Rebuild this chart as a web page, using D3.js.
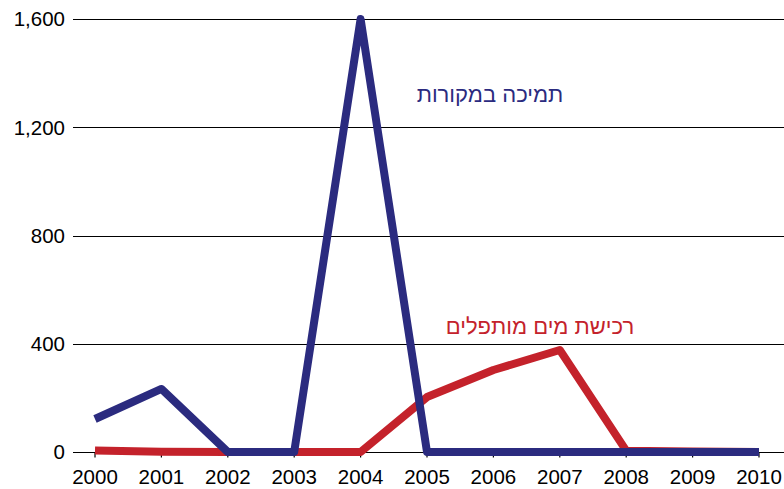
<!DOCTYPE html>
<html>
<head>
<meta charset="utf-8">
<script src="https://cdn.jsdelivr.net/npm/d3@7"></script>
<style>
  body { margin: 0; background: #fff; }
  svg { display: block; font-family: "Liberation Sans", Arial, sans-serif; }
</style>
</head>
<body>
<svg id="chart" width="784" height="489"></svg>
<script>
const years = [2000, 2001, 2002, 2003, 2004, 2005, 2006, 2007, 2008, 2009, 2010];
const supportValues = [122, 233, 0, 0, 1600, 0, 0, 0, 0, 0, 0];
const desalValues = [6, 1, 0, 0, 0, 203, 303, 377, 5, 2, 0];
const yTicks = [0, 400, 800, 1200, 1600];
const supportLabel = "תמיכה במקורות";
const desalLabel = "רכישת מים מותפלים";

const COLORS = { support: "#2b2b7f", desal: "#c4222b" };

const svg = d3.select("#chart");
const width = 784;

const x = d3.scaleLinear().domain([2000, 2010]).range([95, 759]);
const y = d3.scaleLinear().domain([0, 1600]).range([452, 19]);

const fmt = d3.format(",");

// gridlines + y labels
const grid = svg.append("g").attr("class", "grid");
grid
  .selectAll("line")
  .data(yTicks)
  .join("line")
  .attr("x1", 73)
  .attr("x2", width)
  .attr("y1", (d) => Math.round(y(d)) + 0.5)
  .attr("y2", (d) => Math.round(y(d)) + 0.5)
  .attr("stroke", "#000")
  .attr("stroke-width", 1.2);

grid
  .selectAll("text")
  .data(yTicks)
  .join("text")
  .attr("x", 65)
  .attr("y", (d) => y(d))
  .attr("dy", "0.36em")
  .attr("text-anchor", "end")
  .attr("font-size", 20.5)
  .attr("fill", "#000")
  .text((d) => fmt(d));

// x axis ticks & labels
const xAxis = svg
  .append("g")
  .attr("transform", `translate(0, ${Math.round(y(0)) + 0.5})`);

xAxis
  .selectAll("line")
  .data(years)
  .join("line")
  .attr("x1", (d) => x(d))
  .attr("x2", (d) => x(d))
  .attr("y1", 0)
  .attr("y2", 5)
  .attr("stroke", "#000")
  .attr("stroke-width", 1.2);

xAxis
  .selectAll("text")
  .data(years)
  .join("text")
  .attr("x", (d) => x(d))
  .attr("y", 31)
  .attr("text-anchor", "middle")
  .attr("font-size", 20.5)
  .attr("fill", "#000")
  .text((d) => d);

const line = d3
  .line()
  .x((d, i) => x(years[i]))
  .y((d) => y(d));

svg
  .append("path")
  .attr("d", line(desalValues))
  .attr("fill", "none")
  .attr("stroke", COLORS.desal)
  .attr("stroke-width", 8)
  .attr("stroke-linejoin", "round");

svg
  .append("path")
  .attr("d", line(supportValues))
  .attr("fill", "none")
  .attr("stroke", COLORS.support)
  .attr("stroke-width", 8)
  .attr("stroke-linejoin", "round");

svg
  .append("text")
  .attr("x", 490)
  .attr("y", 102)
  .attr("text-anchor", "middle")
  .attr("font-size", 22)
  .attr("fill", COLORS.support)
  .attr("direction", "rtl")
  .text(supportLabel);

svg
  .append("text")
  .attr("x", 540)
  .attr("y", 334)
  .attr("text-anchor", "middle")
  .attr("font-size", 22)
  .attr("fill", COLORS.desal)
  .attr("direction", "rtl")
  .text(desalLabel);
</script>
</body>
</html>
